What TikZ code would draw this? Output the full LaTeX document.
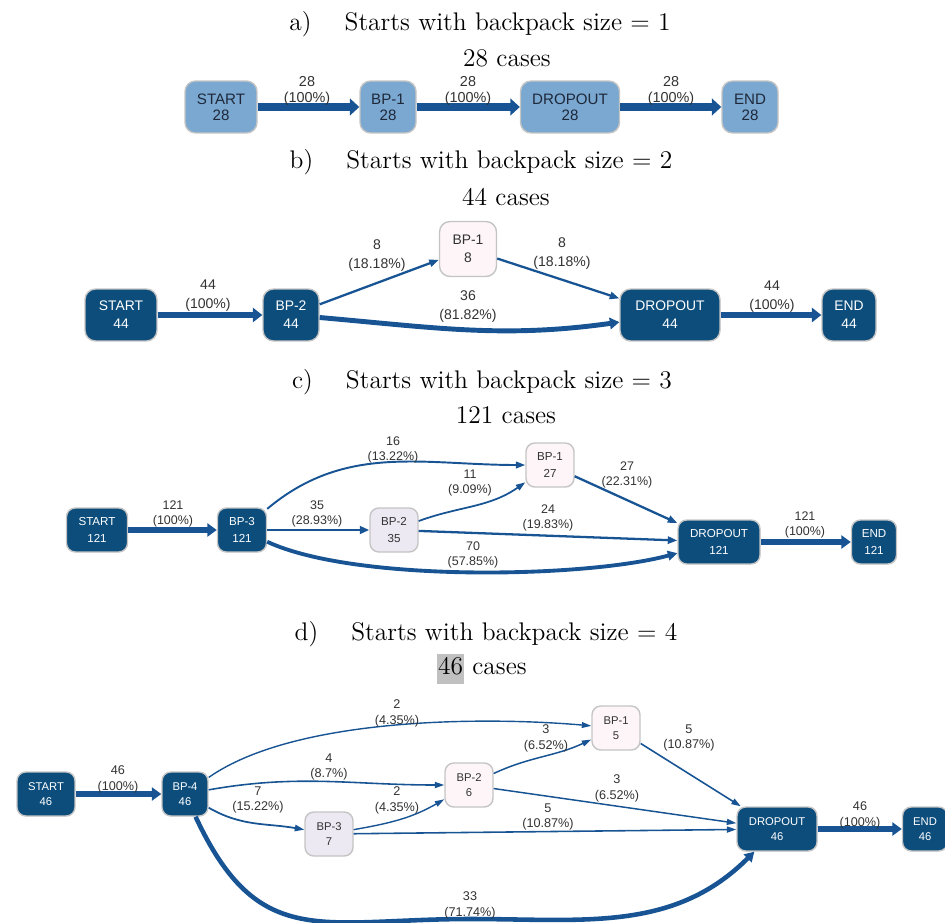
\documentclass[tikz,border=0pt]{standalone}
\usepackage{fontspec}
\usepackage{tikz}
\usetikzlibrary{arrows.meta}
\newfontfamily\flowfont{Liberation Sans}
\definecolor{nodedark}{RGB}{12,77,124}
\definecolor{edgeblue}{RGB}{24,84,148}
\definecolor{nodelight}{RGB}{122,168,208}
\definecolor{nodeedge}{RGB}{196,196,196}
\definecolor{nodepink}{RGB}{253,245,248}
\definecolor{nodelav}{RGB}{237,233,243}
\definecolor{hlgrey}{RGB}{192,192,192}
\definecolor{lbltext}{RGB}{50,50,50}
\definecolor{lighttext}{RGB}{30,40,58}

\begin{document}
\begin{tikzpicture}[x=0.02cm, y=-0.02cm,
    ttl/.style={font=\fontsize{14.5}{16.5}\selectfont, inner sep=0pt},
    box/.style={rectangle, draw=nodeedge, line width=0.8pt, align=center, inner sep=0pt},
    darkbox/.style={box, fill=nodedark, text=white},
    bluebox/.style={box, fill=nodelight, text=lighttext},
    pinkbox/.style={box, fill=nodepink, text=lbltext},
    lavbox/.style={box, fill=nodelav, text=lbltext},
    lbl/.style={align=center, text=lbltext, inner sep=0pt},
    nA/.style={minimum height=1.04cm, rounded corners=6pt, font=\flowfont\fontsize{8.6}{9}\selectfont},
    nB/.style={minimum height=1.04cm, rounded corners=6pt, font=\flowfont\fontsize{7.9}{10.2}\selectfont},
    nC/.style={minimum height=0.88cm, rounded corners=5pt, font=\flowfont\fontsize{6.6}{9.6}\selectfont},
    nD/.style={minimum height=0.88cm, rounded corners=5pt, font=\flowfont\fontsize{6.4}{8.5}\selectfont},
    lA/.style={lbl, font=\flowfont\fontsize{8.2}{9.6}\selectfont},
    lB/.style={lbl, font=\flowfont\fontsize{8}{10.8}\selectfont},
    lC/.style={lbl, font=\flowfont\fontsize{7.1}{8.5}\selectfont},
    lD/.style={lbl, font=\flowfont\fontsize{7.2}{9}\selectfont},
    flow/.style={draw=edgeblue, -{Triangle[length=5.4pt, width=2pt 1.6]}}]
  \useasboundingbox (0,0) rectangle (945,922);

  % a)
  \node[ttl] (aTitle) at (480,24) {a)\hspace{1.3em}Starts with backpack size = 1};
  \node[ttl] (aCases) at (507,58) {28 cases};
  \node[bluebox, nA, minimum width=1.44cm] (aStart) at (221,107) {START\\28};
  \node[bluebox, nA, minimum width=1.12cm] (aBP1) at (388,107) {BP-1\\28};
  \node[bluebox, nA, minimum width=1.98cm] (aDrop) at (570,107) {DROPOUT\\28};
  \node[bluebox, nA, minimum width=1.12cm] (aEnd) at (750,107) {END\\28};
  \draw[flow, line width=4.7pt] (aStart) -- (aBP1);
  \draw[flow, line width=4.7pt] (aBP1) -- (aDrop);
  \draw[flow, line width=4.7pt] (aDrop) -- (aEnd);
  \node[lA] (aL1) at (307,91) {28\\(100\%)};
  \node[lA] (aL2) at (468,91) {28\\(100\%)};
  \node[lA] (aL3) at (671,91) {28\\(100\%)};

  % b)
  \node[ttl] (bTitle) at (481,162) {b)\hspace{1.3em}Starts with backpack size = 2};
  \node[ttl] (bCases) at (506,197) {44 cases};
  \node[darkbox, nB, minimum width=1.44cm] (bStart) at (121,315) {START\\44};
  \node[darkbox, nB, minimum width=1.12cm] (bBP2) at (291,315) {BP-2\\44};
  \node[pinkbox, nB, minimum width=1.14cm, minimum height=1.1cm] (bBP1) at (468,249) {BP-1\\8};
  \node[darkbox, nB, minimum width=2cm] (bDrop) at (670,315) {DROPOUT\\44};
  \node[darkbox, nB, minimum width=1.08cm] (bEnd) at (849,315) {END\\44};
  \draw[flow, line width=3.8pt] (bStart) -- (bBP2);
  \draw[flow, line width=1.3pt] (bBP2) -- (bBP1);
  \draw[flow, line width=1.3pt] (bBP1) -- (bDrop);
  \draw[flow, line width=2.8pt] (bBP2) to[out=-5, in=188] (bDrop);
  \draw[flow, line width=3.8pt] (bDrop) -- (bEnd);
  \node[lB] (bL1) at (208,296) {44\\(100\%)};
  \node[lB] (bL2) at (377,256) {8\\(18.18\%)};
  \node[lB] (bL3) at (562,254) {8\\(18.18\%)};
  \node[lB] (bL4) at (468,307) {36\\(81.82\%)};
  \node[lB] (bL5) at (772,297) {44\\(100\%)};

  % c)
  \node[ttl] (cTitle) at (482,382) {c)\hspace{1.3em}Starts with backpack size = 3};
  \node[ttl] (cCases) at (506,415) {121 cases};
  \node[darkbox, nC, minimum width=1.22cm] (cStart) at (97,530) {START\\121};
  \node[darkbox, nC, minimum width=0.98cm] (cBP3) at (242,530) {BP-3\\121};
  \node[lavbox, nC, minimum width=0.96cm] (cBP2) at (394,530) {BP-2\\35};
  \node[pinkbox, nC, minimum width=0.96cm] (cBP1) at (550,465) {BP-1\\27};
  \node[darkbox, nC, minimum width=1.64cm] (cDrop) at (719,542) {DROPOUT\\121};
  \node[darkbox, nC, minimum width=0.9cm] (cEnd) at (874,542) {END\\121};
  \draw[flow, line width=3.4pt] (cStart) -- (cBP3);
  \draw[flow, line width=1.1pt] (cBP3) to[out=40, in=180] (cBP1);
  \draw[flow, line width=1.5pt] (cBP3) -- (cBP2);
  \draw[flow, line width=1pt] (cBP2) to[out=20, in=215] (cBP1);
  \draw[flow, line width=1.3pt] (cBP2) -- (cDrop);
  \draw[flow, line width=2.2pt] (cBP3) to[out=-25, in=195, looseness=0.6] (cDrop);
  \draw[flow, line width=1.3pt] (cBP1) -- (cDrop);
  \draw[flow, line width=3.4pt] (cDrop) -- (cEnd);
  \node[lC] (cL1) at (173,514) {121\\(100\%)};
  \node[lC] (cL2) at (393,450) {16\\(13.22\%)};
  \node[lC] (cL3) at (317,514) {35\\(28.93\%)};
  \node[lC] (cL4) at (470,483) {11\\(9.09\%)};
  \node[lC] (cL5) at (548,518) {24\\(19.83\%)};
  \node[lC] (cL6) at (473,555) {70\\(57.85\%)};
  \node[lC] (cL7) at (627,475) {27\\(22.31\%)};
  \node[lC] (cL8) at (805,525) {121\\(100\%)};

  % d)
  \node[ttl] (dTitle) at (486,634) {d)\hspace{1.3em}Starts with backpack size = 4};
  \node[ttl] (dCases) at (482,669) {{\setlength{\fboxsep}{0.5pt}\colorbox{hlgrey}{\strut 46}} cases};
  \node[darkbox, nD, minimum width=1.16cm] (dStart) at (46,794) {START\\46};
  \node[darkbox, nD, minimum width=0.92cm] (dBP4) at (185,794) {BP-4\\46};
  \node[lavbox, nD, minimum width=0.96cm] (dBP3) at (329,834) {BP-3\\7};
  \node[pinkbox, nD, minimum width=0.96cm] (dBP2) at (469,785) {BP-2\\6};
  \node[pinkbox, nD, minimum width=0.96cm] (dBP1) at (616,728) {BP-1\\5};
  \node[darkbox, nD, minimum width=1.6cm] (dDrop) at (777,829) {DROPOUT\\46};
  \node[darkbox, nD, minimum width=0.9cm] (dEnd) at (925,829) {END\\46};
  \coordinate (dLow) at (470,919);
  \draw[flow, line width=3.4pt] (dStart) -- (dBP4);
  \draw[flow, line width=0.8pt] (dBP4) to[out=35, in=175, looseness=0.7] (dBP1);
  \draw[flow, line width=0.9pt] (dBP4) to[out=10, in=180] (dBP2);
  \draw[flow, line width=1pt] (dBP4) to[out=-30, in=170] (dBP3);
  \draw[flow, line width=0.8pt] (dBP3) to[out=10, in=210] (dBP2);
  \draw[flow, line width=0.85pt] (dBP2) to[out=25, in=205] (dBP1);
  \draw[flow, line width=0.85pt] (dBP2) -- (dDrop);
  \draw[flow, line width=0.9pt] (dBP3) -- (dDrop);
  \draw[flow, line width=0.9pt] (dBP1) -- (dDrop);
  \draw[flow, line width=2.6pt] (dBP4) to[out=-65, in=180, looseness=1.3] (dLow) to[out=0, in=-135] (dDrop);
  \draw[flow, line width=3.4pt] (dDrop) -- (dEnd);
  \node[lD] (dL1) at (118,779) {46\\(100\%)};
  \node[lD] (dL2) at (397,713) {2\\(4.35\%)};
  \node[lD] (dL3) at (329,767) {4\\(8.7\%)};
  \node[lD] (dL4) at (258,800) {7\\(15.22\%)};
  \node[lD] (dL5) at (397,800) {2\\(4.35\%)};
  \node[lD] (dL6) at (546,738) {3\\(6.52\%)};
  \node[lD] (dL7) at (689,738) {5\\(10.87\%)};
  \node[lD] (dL8) at (617,788) {3\\(6.52\%)};
  \node[lD] (dL9) at (548,817) {5\\(10.87\%)};
  \node[lD] (dL10) at (470,905) {33\\(71.74\%)};
  \node[lD] (dL11) at (860,815) {46\\(100\%)};
\end{tikzpicture}
\end{document}
